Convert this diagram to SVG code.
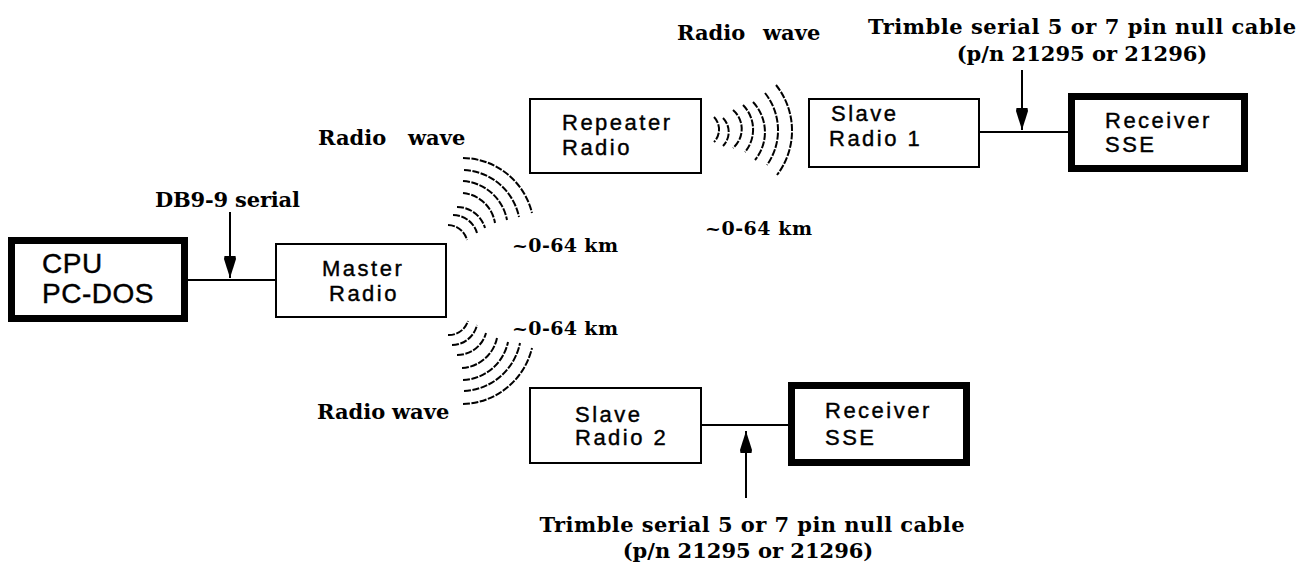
<svg xmlns="http://www.w3.org/2000/svg" width="1310" height="569" viewBox="0 0 1310 569">
<defs>
<style>
.box{fill:#fff;stroke:#000;stroke-width:2}
.thick{fill:#fff;stroke:#000;stroke-width:7}
.wire{stroke:#000;stroke-width:2;fill:none}
.wave{stroke:#000;stroke-width:2;fill:none;stroke-dasharray:7 1.5}
.sans{font-family:"Liberation Sans",Arial,sans-serif;font-size:22px;letter-spacing:2.5px;fill:#000;stroke:#000;stroke-width:0.4}
.big{font-size:28px;letter-spacing:0.5px}
.lbl{font-family:"DejaVu Serif","Liberation Serif",serif;font-weight:bold;font-size:21px;fill:#000}
.km{font-size:19px}
</style>
<marker id="ah" viewBox="0 0 22 12" refX="22" refY="6" markerWidth="22" markerHeight="12" orient="auto" markerUnits="userSpaceOnUse">
<path d="M0,0.5 L3,0 L22,6 L3,12 L0,11.5 Z" fill="#000"/>
</marker>
</defs>
<rect width="1310" height="569" fill="#fff"/>

<g id="connectors">
<line class="wire" x1="188" y1="280" x2="275" y2="280"/>
<line class="wire" x1="980" y1="132" x2="1068" y2="132"/>
<line class="wire" x1="702" y1="425" x2="788" y2="425"/>
<line class="wire" x1="230" y1="212" x2="230" y2="278" marker-end="url(#ah)"/>
<line class="wire" x1="1022" y1="70" x2="1022" y2="130" marker-end="url(#ah)"/>
<line class="wire" x1="746" y1="498" x2="746" y2="431" marker-end="url(#ah)"/>
</g>

<g id="waves">
<path class="wave" d="M463,158 A72,72 0 0 1 532,213"/>
<path class="wave" d="M464,170 A59,59 0 0 1 519,217"/>
<path class="wave" d="M463,181 A48,48 0 0 1 507,220"/>
<path class="wave" d="M463,193 A36,36 0 0 1 495,223"/>
<path class="wave" d="M457,207 A29,29 0 0 1 485,228"/>
<path class="wave" d="M453,215 A25,25 0 0 1 477,233"/>
<path class="wave" d="M448,225 A20,20 0 0 1 467,240"/>

<path class="wave" d="M448,335 A20,20 0 0 0 468,321"/>
<path class="wave" d="M452,345 A26,26 0 0 0 477,325"/>
<path class="wave" d="M457,355 A30,30 0 0 0 486,333"/>
<path class="wave" d="M462,368 A38,38 0 0 0 497,338"/>
<path class="wave" d="M463,380 A48,48 0 0 0 508,342"/>
<path class="wave" d="M464,391 A60,60 0 0 0 520,343"/>
<path class="wave" d="M463,404 A73,73 0 0 0 532,348"/>

<path class="wave" d="M714,117 A18,18 0 0 1 714,142"/>
<path class="wave" d="M723,118 A20,20 0 0 1 723,146"/>
<path class="wave" d="M733,110 A25,25 0 0 1 733,148"/>
<path class="wave" d="M743,105 A35,35 0 0 1 745,152"/>
<path class="wave" d="M753,102 A44,44 0 0 1 755,160"/>
<path class="wave" d="M765,93 A60,60 0 0 1 767,165"/>
<path class="wave" d="M776,85 A73,73 0 0 1 777,175"/>
</g>

<g id="cpu">
<rect class="thick" x="11.5" y="240.5" width="173" height="78"/>
<text class="sans big" x="42" y="273">CPU</text>
<text class="sans big" x="42" y="303">PC-DOS</text>
</g>

<g id="master-radio">
<rect class="box" x="276" y="244" width="170" height="73"/>
<text class="sans" x="322" y="276">Master</text>
<text class="sans" x="329" y="301">Radio</text>
</g>

<g id="repeater-radio">
<rect class="box" x="530" y="99" width="171" height="74"/>
<text class="sans" x="562" y="130">Repeater</text>
<text class="sans" x="562" y="155">Radio</text>
</g>

<g id="slave-radio-1">
<rect class="box" x="809" y="99" width="170" height="68"/>
<text class="sans" x="831" y="121">Slave</text>
<text class="sans" x="829" y="146">Radio 1</text>
</g>

<g id="receiver-1">
<rect class="thick" x="1071.5" y="96.5" width="173" height="72"/>
<text class="sans" x="1105" y="128">Receiver</text>
<text class="sans" x="1105" y="152">SSE</text>
</g>

<g id="slave-radio-2">
<rect class="box" x="530" y="388" width="171" height="75"/>
<text class="sans" x="575" y="422">Slave</text>
<text class="sans" x="575" y="445">Radio 2</text>
</g>

<g id="receiver-2">
<rect class="thick" x="791.5" y="385.5" width="175" height="77"/>
<text class="sans" x="825" y="418">Receiver</text>
<text class="sans" x="825" y="445">SSE</text>
</g>

<g id="labels">
<text class="lbl" x="155" y="207" textLength="145">DB9-9 serial</text>
<text class="lbl" y="145"><tspan x="318">Radio</tspan><tspan x="408">wave</tspan></text>
<text class="lbl" y="419"><tspan x="317">Radio</tspan><tspan x="392">wave</tspan></text>
<text class="lbl" y="40"><tspan x="677">Radio</tspan><tspan x="763">wave</tspan></text>
<text class="lbl km" x="512" y="252" textLength="106">~0-64 km</text>
<text class="lbl km" x="705" y="235" textLength="107">~0-64 km</text>
<text class="lbl km" x="512" y="335" textLength="106">~0-64 km</text>
<text class="lbl" x="1082" y="34" text-anchor="middle" textLength="428">Trimble serial 5 or 7 pin null cable</text>
<text class="lbl" x="1082" y="61" text-anchor="middle">(p/n 21295 or 21296)</text>
<text class="lbl" x="752" y="532" text-anchor="middle" textLength="425">Trimble serial 5 or 7 pin null cable</text>
<text class="lbl" x="748" y="558" text-anchor="middle">(p/n 21295 or 21296)</text>
</g>
</svg>
